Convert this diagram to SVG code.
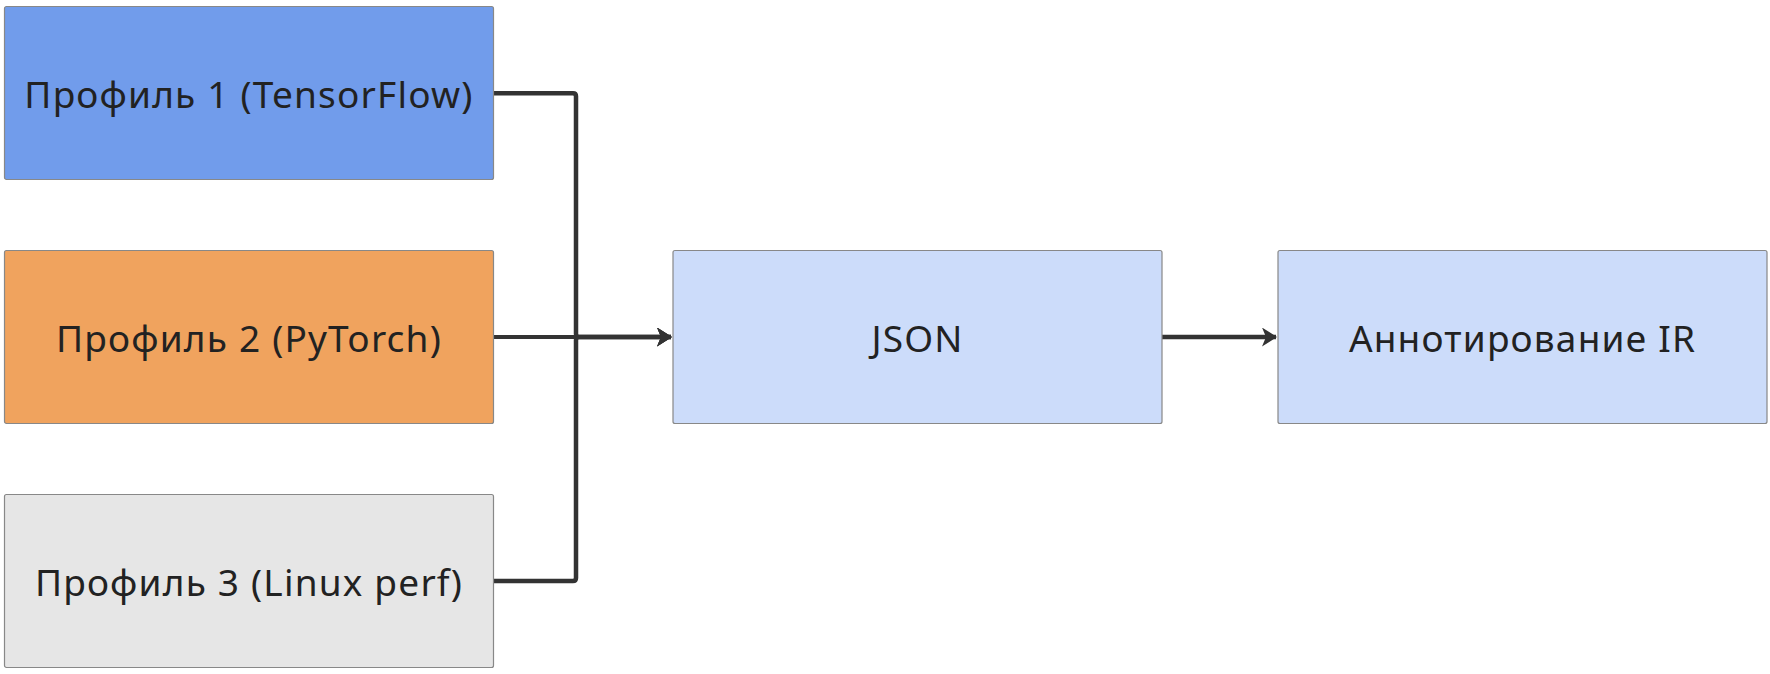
<svg xmlns="http://www.w3.org/2000/svg" width="1770" height="674" viewBox="0 0 1770 674">
<defs>
<style>
.box{stroke:#888;stroke-width:1.2}
.lbl{font-family:"Noto Sans","Open Sans",sans-serif;font-size:37px;letter-spacing:1.2px;fill:#222;text-anchor:middle;dominant-baseline:central}
.edge{fill:none;stroke:#333;stroke-width:4.5}
.thin{stroke-width:3.8}
</style>
<marker id="arrow" viewBox="0 0 15 19" refX="14" refY="9.5" markerWidth="15" markerHeight="19" markerUnits="userSpaceOnUse" orient="auto">
<path d="M0,0 L15,9.5 L0,19 L4,9.5 z" fill="#333"/>
</marker>
</defs>
<g id="connectors">
<path class="edge" d="M493.5,93.3 H573 Q576,93.3 576,96.3 V334 Q576,337 579,337 H671" marker-end="url(#arrow)"/>
<path class="edge thin" d="M493.5,337 H671" marker-end="url(#arrow)"/>
<path class="edge" d="M493.5,581 H573 Q576,581 576,578 V340 Q576,337 579,337 H671" marker-end="url(#arrow)"/>
<path class="edge" d="M1161.5,337 H1276" marker-end="url(#arrow)"/>
</g>
<g id="p1">
<rect class="box" x="4.5" y="6.5" width="489" height="173" rx="2" fill="#719CEB"/>
<text class="lbl" x="249" y="93">Профиль 1 (TensorFlow)</text>
</g>
<g id="p2">
<rect class="box" x="4.5" y="250.5" width="489" height="173" rx="2" fill="#F0A35E"/>
<text class="lbl" x="249" y="337">Профиль 2 (PyTorch)</text>
</g>
<g id="p3">
<rect class="box" x="4.5" y="494.5" width="489" height="173" rx="2" fill="#E6E6E6"/>
<text class="lbl" x="249" y="581">Профиль 3 (Linux perf)</text>
</g>
<g id="json">
<rect class="box" x="673" y="250.5" width="489" height="173" rx="2" fill="#CCDCFA"/>
<text class="lbl" x="917.5" y="337">JSON</text>
</g>
<g id="annot">
<rect class="box" x="1278" y="250.5" width="489" height="173" rx="2" fill="#CCDCFA"/>
<text class="lbl" x="1522.5" y="337">Аннотирование IR</text>
</g>
</svg>
